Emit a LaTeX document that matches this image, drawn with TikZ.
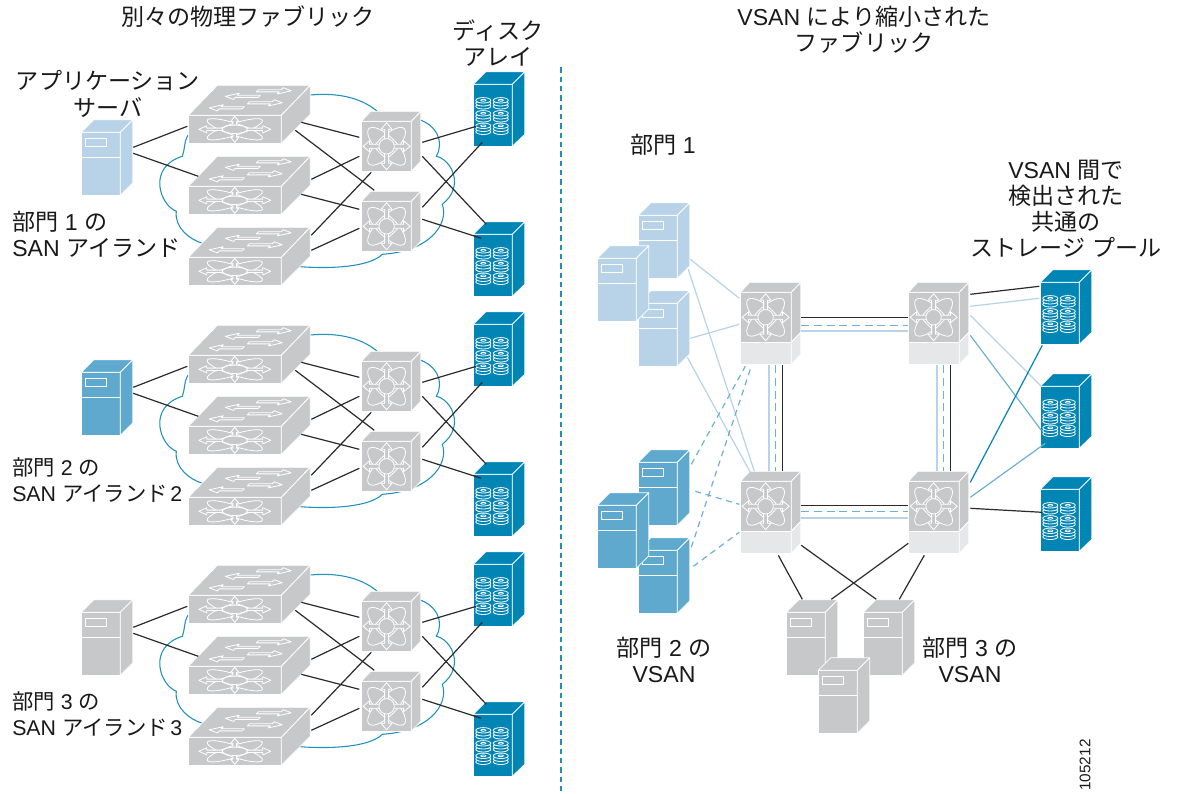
\documentclass[tikz,border=0pt]{standalone}
\usepackage{fontspec}
\setmainfont{Liberation Sans}
\newfontfamily\jp{Noto Sans CJK JP}
\newcommand\J[1]{{\jp #1}}
\def\pxu{0.75pt}
\definecolor{swgrey}{HTML}{C7C8CA}
\definecolor{swbase}{HTML}{E6E7E8}
\definecolor{srvlight}{HTML}{B8D3E8}
\definecolor{srvmid}{HTML}{5FA9CF}
\definecolor{arrayblue}{HTML}{0085B5}
\definecolor{cloudblue}{HTML}{1F8FC0}
\definecolor{linkdark}{HTML}{2B2B2B}
\definecolor{linkmid}{HTML}{6DB0D5}
\tikzset{
  x=0.75pt,y=-0.75pt,
  face/.style={draw=white,line width=0.6pt,inner sep=0pt,outer sep=0pt,anchor=north west},
  shell/.style={draw=white,line width=0.6pt,line join=round},
  icon/.style={draw=white,line width=0.6pt,line join=round},
  blacklink/.style={draw=linkdark,line width=0.9pt},
  lightlink/.style={draw=srvlight,line width=0.9pt},
  trunklight/.style={draw=srvlight,line width=1.25pt},
  midlink/.style={draw=linkmid,line width=0.9pt},
  stronglink/.style={draw=arrayblue,line width=0.9pt},
  dashlink/.style={draw=linkmid,line width=0.9pt,dash pattern=on 4.5pt off 3.5pt},
  trunkdash/.style={draw=linkmid,line width=1pt,dash pattern=on 6pt off 3.5pt},
  cloud line/.style={draw=cloudblue,line width=0.8pt},
  label/.style={inner sep=0pt,align=center,font=\fontsize{17.3}{19.6}\selectfont,text=black!90},
  leftbig/.style={inner sep=0pt,align=left,anchor=west,font=\fontsize{17.3}{19.6}\selectfont,text=black!90},
  leftlabel/.style={inner sep=0pt,align=left,anchor=west,font=\fontsize{16}{19.6}\selectfont,text=black!90},
}
% block arrow along +x
\newcommand\barrow[6]{\filldraw[icon,fill=#6] (#1,-#3)--({#2-#5},-#3)--({#2-#5},-#4)--(#2,0)--({#2-#5},#4)--({#2-#5},#3)--(#1,#3)--cycle;}
\newcommand\devserver[4]{%
  \node[face,fill=#4,minimum width=39*\pxu,minimum height=63*\pxu] (#1) at (#2,#3) {};
  \begin{scope}[shift={(#1.north west)}]
    \filldraw[shell,fill=#4] (0,0)--(39,0)--(51.5,-12.5)--(12.5,-12.5)--cycle;
    \filldraw[shell,fill=#4] (39,0)--(51.5,-12.5)--(51.5,50.5)--(39,63)--cycle;
    \draw[shell] (0,25)--(39,25);
    \draw[shell] (4.5,6) rectangle (25,14.5);
  \end{scope}}
\newcommand\devarray[3]{%
  \node[face,fill=arrayblue,minimum width=39*\pxu,minimum height=62*\pxu] (#1) at (#2,#3) {};
  \begin{scope}[shift={(#1.north west)}]
    \filldraw[shell,fill=arrayblue] (0,0)--(39,0)--(51.5,-12.5)--(12.5,-12.5)--cycle;
    \filldraw[shell,fill=arrayblue] (39,0)--(51.5,-12.5)--(51.5,50)--(39,62)--cycle;
    \foreach \cx in {10,27.5}{\foreach \cy in {19,32,44.5}{
      \foreach \dy in {3,0,-3}{
        \filldraw[icon,fill=arrayblue] (\cx,\cy+\dy) ellipse [x radius=7.5,y radius=2.7];}
      \draw[icon] (\cx,\cy-3) ellipse [x radius=2.6,y radius=0.9];
    }}
  \end{scope}}
\newcommand\flaticon{%
  \begin{scope}[shift={(46.5,14)}]
    \draw[icon,rotate=18] (0,0) ellipse [x radius=29,y radius=6];
    \draw[icon,rotate=-18] (0,0) ellipse [x radius=29,y radius=6];
    \foreach \ang in {0,180}{\begin{scope}[rotate=\ang]\barrow{9}{36}{1.2}{3.6}{8}{swgrey}\end{scope}}
    \foreach \ang in {90,270}{\begin{scope}[rotate=\ang]\barrow{4}{13}{1.8}{4}{5}{swgrey}\end{scope}}
    \filldraw[icon,fill=swgrey] (0,0) ellipse [x radius=12.5,y radius=4.2];
  \end{scope}}
\newcommand\toparrow[3]{% x, y, rotation
  \begin{scope}[shift={(#1,#2)},xslant=0.95,yscale=0.62,rotate=#3]
    \barrow{-17}{17}{1.7}{5}{11}{swgrey}
  \end{scope}}
\newcommand\devflat[3]{%
  \node[face,fill=swgrey,minimum width=93*\pxu,minimum height=28*\pxu] (#1) at (#2,#3) {};
  \begin{scope}[shift={(#1.north west)}]
    \filldraw[shell,fill=swgrey] (0,0)--(93,0)--(122,-30)--(29,-30)--cycle;
    \filldraw[shell,fill=swgrey] (93,0)--(122,-30)--(122,-1)--(93,28)--cycle;
    \flaticon
    \toparrow{86}{-24.5}{0}
    \toparrow{54}{-19}{180}
    \toparrow{77}{-12.5}{0}
    \toparrow{38}{-7.5}{180}
  \end{scope}}
\newcommand\mdsicon{%
  \begin{scope}[shift={(25.3,25)}]
    \draw[icon,rotate=45] (0,0) ellipse [x radius=25,y radius=9.5];
    \draw[icon,rotate=-45] (0,0) ellipse [x radius=25,y radius=9.5];
    \foreach \ang in {0,90,180,270}{\begin{scope}[rotate=\ang]\barrow{5}{23.5}{2}{5.5}{6.5}{swgrey}\end{scope}}
    \filldraw[icon,fill=swgrey] (0,0) circle [x radius=7.7,y radius=7.7];
  \end{scope}}
\newcommand\devmds[3]{%
  \node[face,fill=swgrey,minimum width=50*\pxu,minimum height=50*\pxu] (#1) at (#2,#3) {};
  \begin{scope}[shift={(#1.north west)}]
    \filldraw[shell,fill=swgrey] (0,0)--(50,0)--(59.5,-10)--(9.5,-10)--cycle;
    \filldraw[shell,fill=swgrey] (50,0)--(59.5,-10)--(59.5,40)--(50,50)--cycle;
    \mdsicon
  \end{scope}}
\newcommand\devmdsbase[3]{%
  \node[face,fill=swgrey,minimum width=51*\pxu,minimum height=50*\pxu] (#1) at (#2,#3) {};
  \begin{scope}[shift={(#1.north west)}]
    \filldraw[shell,fill=swgrey] (0,0)--(51,0)--(60.5,-10)--(9.5,-10)--cycle;
    \filldraw[shell,fill=swgrey] (51,0)--(60.5,-10)--(60.5,40)--(51,50)--cycle;
    \filldraw[shell,fill=swbase] (0,50)--(51,50)--(51,72)--(0,72)--cycle;
    \filldraw[shell,fill=swbase] (51,50)--(60.5,40)--(60.5,62)--(51,72)--cycle;
    \mdsicon
  \end{scope}}
\newcommand\lnk[5]{\draw[#1] ([shift={(#3)}]#2.north west) -- ([shift={(#5)}]#4.north west);}
\begin{document}
\begin{tikzpicture}
\fill[white] (0,0) rectangle (1177,793);
\useasboundingbox (0,0) rectangle (1177,793);
\begin{scope}[shift={(-0.7,-0.7)}]
% separator
\coordinate (septop) at (561.7,68);
\coordinate (sepbot) at (561.7,794);
\draw[cloudblue,line width=1pt,dash pattern=on 4pt off 3pt] (septop) -- (sepbot);
% left: three fabrics
\foreach \g/\oy/\col in {1/0/srvlight,2/240/srvmid,3/480/swgrey}{
  \begin{scope}[shift={(0,\oy)}]
    \draw[cloud line]
      (308,96) .. controls (335,93) and (360,97) .. (378,112)
      (419,120) .. controls (438,126) and (445,143) .. (437,157)
      .. controls (452,160) and (466,187) .. (443,205)
      .. controls (450,225) and (430,252) .. (383,255)
      .. controls (370,268) and (330,270) .. (296,267)
      (203,244) .. controls (190,240) and (175,228) .. (177,212)
      .. controls (160,205) and (148,168) .. (183,157)
      .. controls (186,150) and (184,142) .. (190,134);
    \devserver{srv\g}{82}{133}{\col}
    \devflat{swa\g}{189}{116}
    \devflat{swb\g}{189}{187}
    \devflat{swc\g}{189}{258}
    \devmds{mda\g}{362}{122}
    \devmds{mdb\g}{362}{202}
    \devarray{arra\g}{474}{85}
    \devarray{arrb\g}{474}{235}
  \end{scope}
  \lnk{blacklink}{srv\g}{52,15}{swa\g}{-1,11}
  \lnk{blacklink}{srv\g}{52,21}{swb\g}{10,-10}
  \lnk{blacklink}{swa\g}{113,7}{mda\g}{-2,16}
  \lnk{blacklink}{swa\g}{107,15}{mdb\g}{13,-11}
  \lnk{blacklink}{swb\g}{123,-7}{mda\g}{-2,35}
  \lnk{blacklink}{swb\g}{113,8}{mdb\g}{-2,8}
  \lnk{blacklink}{swc\g}{123,-22}{mda\g}{10,51}
  \lnk{blacklink}{swc\g}{123,-7}{mdb\g}{-2,27}
  \lnk{blacklink}{mda\g}{61,21}{arra\g}{3,42}
  \lnk{blacklink}{mda\g}{61,35}{arrb\g}{13,-10}
  \lnk{blacklink}{mdb\g}{61,6}{arra\g}{9,58}
  \lnk{blacklink}{mdb\g}{61,18}{arrb\g}{8,4}
}
% right: VSAN fabric
\devserver{sa}{639}{216}{srvlight}
\devserver{sc}{639}{304}{srvlight}
\devserver{sb}{598}{259}{srvlight}
\devserver{ma}{639}{463}{srvmid}
\devserver{mc}{639}{551}{srvmid}
\devserver{mb}{598}{506}{srvmid}
\devserver{ga}{787}{613}{swgrey}
\devserver{gb}{864}{613}{swgrey}
\devserver{gc}{819}{671}{swgrey}
\devmdsbase{tl}{741}{293}
\devmdsbase{tr}{909}{293}
\devmdsbase{bl}{741}{482}
\devmdsbase{br}{909}{482}
\devarray{ra}{1041}{283}
\devarray{rb}{1041}{387}
\devarray{rc}{1041}{490}
% servers to directors
\lnk{lightlink}{sa}{52,44}{tl}{-1,6}
\lnk{lightlink}{sa}{50,54}{bl}{14,-10}
\lnk{lightlink}{sc}{52,35}{tl}{-1,32}
\lnk{lightlink}{sc}{49,54}{bl}{10,-9}
\lnk{dashlink}{ma}{53,2}{tl}{5,74}
\lnk{dashlink}{mc}{53,-3}{tl}{11,74}
\lnk{dashlink}{ma}{57,29}{bl}{-1,23}
\lnk{dashlink}{mc}{55,16}{bl}{-1,51}
% trunks
\lnk{blacklink}{tl}{61,25}{tr}{0,25}
\lnk{trunkdash}{tl}{61,33}{tr}{0,33}
\lnk{trunklight}{tl}{61,39}{tr}{0,39}
\lnk{blacklink}{bl}{61,24}{br}{0,24}
\lnk{trunkdash}{bl}{61,30}{br}{0,30}
\lnk{trunklight}{bl}{61,37}{br}{0,37}
\lnk{trunklight}{tl}{29,73}{bl}{29,-10}
\lnk{trunkdash}{tl}{35,73}{bl}{35,-10}
\lnk{blacklink}{tl}{42,73}{bl}{42,-10}
\lnk{trunklight}{tr}{29,73}{br}{29,-10}
\lnk{trunkdash}{tr}{35,73}{br}{35,-10}
\lnk{blacklink}{tr}{42,73}{br}{42,-10}
% directors to storage
\lnk{blacklink}{tr}{62,2}{ra}{-1,4}
\lnk{lightlink}{tr}{62,14}{ra}{-1,16}
\lnk{lightlink}{tr}{62,23}{rb}{1,0}
\lnk{midlink}{tr}{62,43}{rb}{1,44}
\lnk{stronglink}{br}{62,1}{ra}{2,63}
\lnk{midlink}{br}{62,16}{rb}{5,57}
\lnk{blacklink}{br}{62,27}{rc}{2,23}
% directors to grey servers
\lnk{blacklink}{bl}{38,74}{ga}{16,-13}
\lnk{blacklink}{bl}{61,64}{gb}{13,-13}
\lnk{blacklink}{br}{0,62}{ga}{45,-13}
\lnk{blacklink}{br}{16,74}{gb}{36,-13}
\end{scope}
% labels
\node[label] (t1) at (248,17) {\J{別々の物理ファブリック}};
\node[label] (t2) at (498,43) {\J{ディスク}\\\J{アレイ}};
\node[label] (t3) at (108,94) {\J{アプリケーション}\\\J{サーバ}};
\node[leftbig] (t4) at (12,234) {\J{部門} 1 \J{の}\\SAN \J{アイランド}};
\node[leftlabel] (t5) at (12,480) {\J{部門} 2 \J{の}\\SAN \J{アイランド}\hspace{2pt}2};
\node[leftlabel] (t6) at (12,714) {\J{部門} 3 \J{の}\\SAN \J{アイランド}\hspace{2pt}3};
\node[label] (t7) at (864,29.5) {VSAN \J{により縮小された}\\\J{ファブリック}};
\node[label] (t8) at (663,145) {\J{部門} 1};
\node[label] (t9) at (1066,209) {VSAN \J{間で}\\\J{検出された}\\\J{共通の}\\\J{ストレージ} \J{プール}};
\node[label] (t10) at (664,660) {\J{部門} 2 \J{の}\\VSAN};
\node[label] (t11) at (970,660) {\J{部門} 3 \J{の}\\VSAN};
\node[inner sep=0pt,rotate=90,font=\fontsize{11.5}{13}\selectfont,text=black!90] (t12) at (1085,765) {105212};
\end{tikzpicture}
\end{document}
